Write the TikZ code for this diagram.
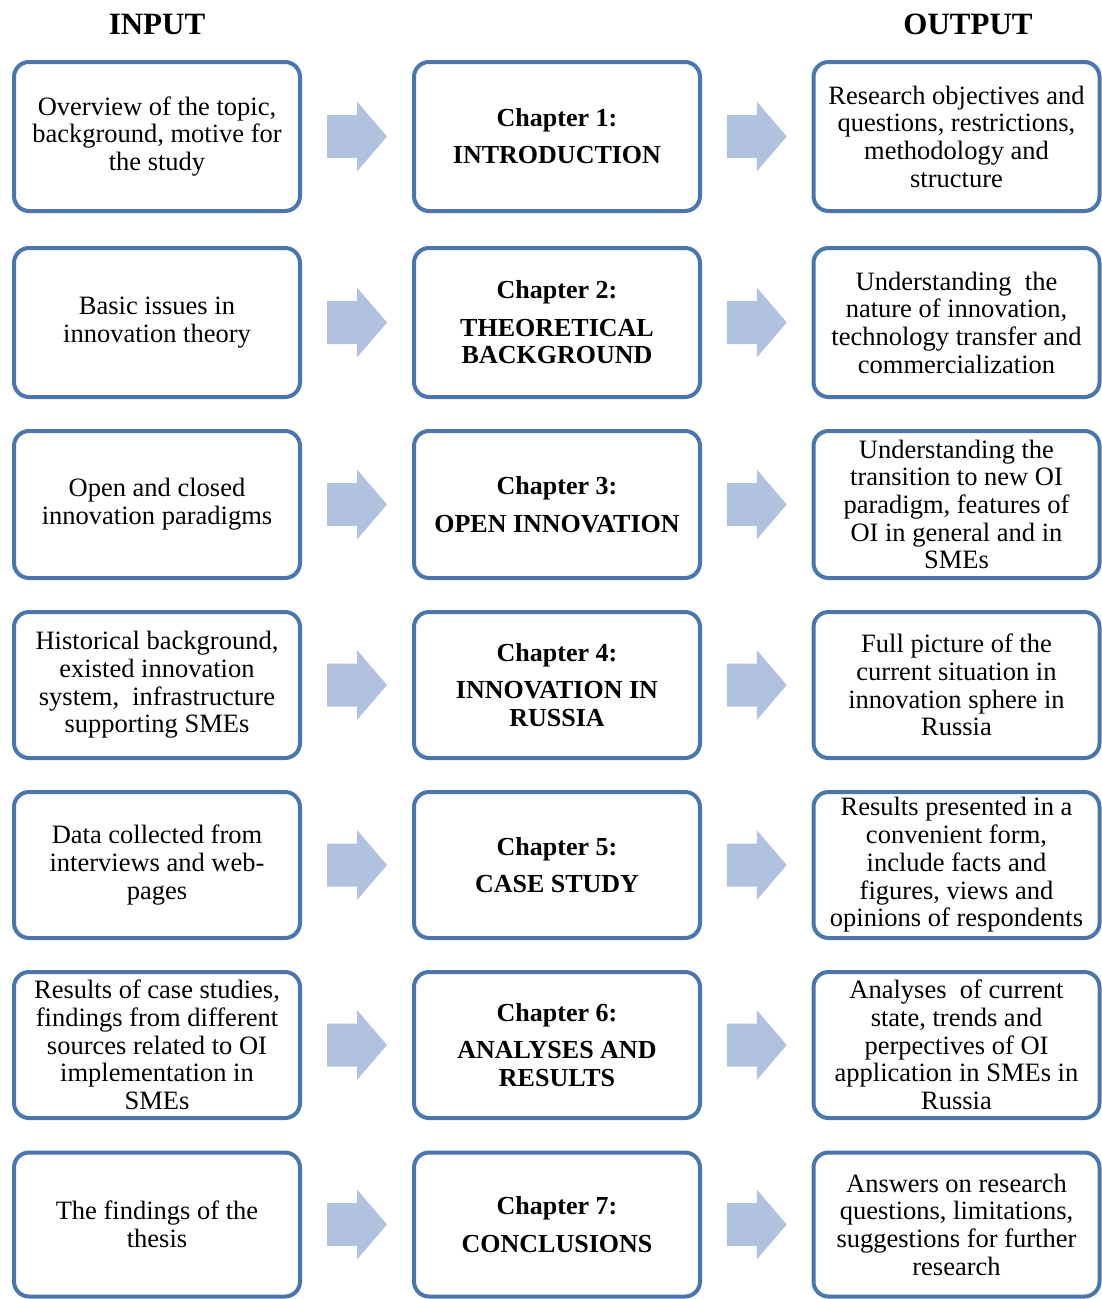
\documentclass[tikz,border=0pt]{standalone}
\usepackage{fontspec}
\setmainfont{Liberation Serif}
\usetikzlibrary{calc}
\definecolor{boxline}{HTML}{4A76AC}
\definecolor{arrfill}{HTML}{B0C2DE}
\tikzset{
  box/.style={draw=boxline, line width=4pt, rounded corners=15pt, fill=white,
    minimum width=286pt, align=center, inner sep=0pt,
    font=\fontsize{26.5}{27.7}\selectfont},
  chap/.style={box, font=\fontsize{26}{27.5}\selectfont\bfseries},
  head/.style={font=\fontsize{31}{33}\selectfont\bfseries, inner sep=0pt},
  blockarrow/.pic={\fill[arrfill] (-30,-21.5) -- (0,-21.5) -- (0,-35) -- (30,0) -- (0,35) -- (0,21.5) -- (-30,21.5) -- cycle;}
}
\begin{document}
\begin{tikzpicture}[x=1pt,y=-1pt]
\useasboundingbox (0,0) rectangle (1102,1299);
\node[head] (hin) at (157,24) {INPUT};
\node[head] (hout) at (968,24) {OUTPUT};

\node[box, minimum height=149pt] (in1) at (157,136.5) {Overview of the topic,\\background, motive for\\the study};
\node[chap, minimum height=149pt] (ch1) at (557,136.5) {Chapter 1:\\[9.5pt]INTRODUCTION};
\node[box, minimum height=149pt] (out1) at (956.5,136.5) {Research objectives and\\questions, restrictions,\\methodology and\\structure};

\node[box, minimum height=149pt] (in2) at (157,322.5) {Basic issues in\\innovation theory};
\node[chap, minimum height=149pt] (ch2) at (557,322.5) {Chapter 2:\\[10pt]THEORETICAL\\BACKGROUND};
\node[box, minimum height=149pt] (out2) at (956.5,322.5) {Understanding\ \ the\\nature of innovation,\\technology transfer and\\commercialization};

\node[box, minimum height=147pt] (in3) at (157,504.5) {Open and closed\\innovation paradigms};
\node[chap, minimum height=147pt] (ch3) at (557,504.5) {Chapter 3:\\[10pt]OPEN INNOVATION};
\node[box, minimum height=147pt] (out3) at (956.5,504.5) {Understanding the\\transition to new OI\\paradigm, features of\\OI in general and in\\SMEs};

\node[box, minimum height=146pt] (in4) at (157,685) {Historical background,\\existed innovation\\system,\ \ infrastructure\\supporting SMEs};
\node[chap, minimum height=146pt] (ch4) at (557,685) {Chapter 4:\\[10pt]INNOVATION IN\\RUSSIA};
\node[box, minimum height=146pt] (out4) at (956.5,685) {Full picture of the\\current situation in\\innovation sphere in\\Russia};

\node[box, minimum height=146pt] (in5) at (157,865) {Data collected from\\interviews and web-\\pages};
\node[chap, minimum height=146pt] (ch5) at (557,865) {Chapter 5:\\[10pt]CASE STUDY};
\node[box, minimum height=146pt] (out5) at (956.5,865) {Results presented in a\\convenient form,\\include facts and\\figures, views and\\opinions of respondents};

\node[box, minimum height=146pt] (in6) at (157,1045) {Results of case studies,\\findings from different\\sources related to OI\\implementation in\\SMEs};
\node[chap, minimum height=146pt] (ch6) at (557,1045) {Chapter 6:\\[10pt]ANALYSES AND\\RESULTS};
\node[box, minimum height=146pt] (out6) at (956.5,1045) {Analyses\ \ of current\\state, trends and\\perpectives of OI\\application in SMEs in\\Russia};

\node[box, minimum height=144pt] (in7) at (157,1224.5) {The findings of the\\thesis};
\node[chap, minimum height=144pt] (ch7) at (557,1224.5) {Chapter 7:\\[10pt]CONCLUSIONS};
\node[box, minimum height=144pt] (out7) at (956.5,1224.5) {Answers on research\\questions, limitations,\\suggestions for further\\research};

\foreach \r in {1,...,7}{
  \pic at ($(in\r.east)!0.5!(ch\r.west)$) {blockarrow};
  \pic at ($(ch\r.east)!0.5!(out\r.west)$) {blockarrow};
}
\end{tikzpicture}
\end{document}
